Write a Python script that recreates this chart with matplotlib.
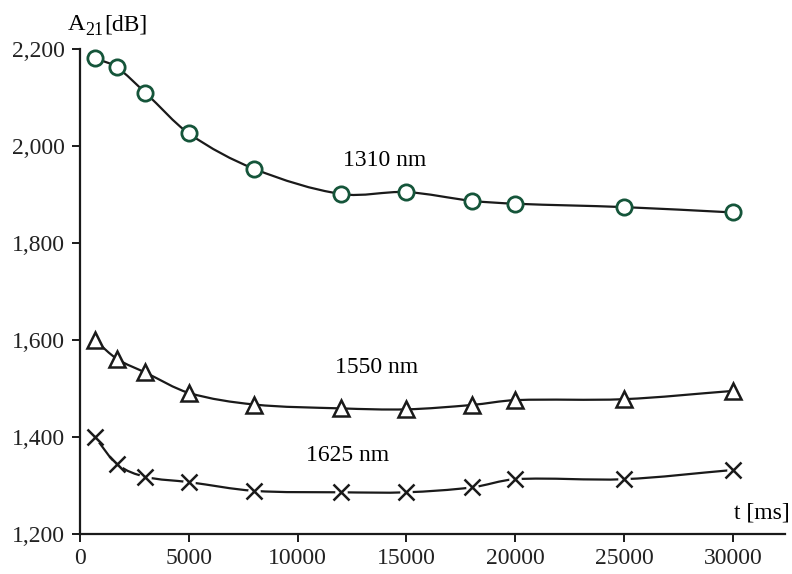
import numpy as np
import matplotlib
matplotlib.use("Agg")
import matplotlib.pyplot as plt
from matplotlib.path import Path
from matplotlib.patches import PathPatch

# ---- data ----
t_ms = [700, 1700, 3000, 5000, 8000, 12000, 15000, 18000, 20000, 25000, 30000]
a21_1310 = [2181, 2162, 2110, 2026, 1953, 1901, 1905, 1887, 1881, 1874, 1863]
a21_1550 = [1599, 1561, 1533, 1491, 1467, 1459, 1457, 1466, 1476, 1478, 1495]
a21_1625 = [1399, 1344, 1318, 1307, 1289, 1286, 1286, 1296, 1313, 1313, 1332]
series_labels = ["1310 nm", "1550 nm", "1625 nm"]
x_ticks = [0, 5000, 10000, 15000, 20000, 25000, 30000]
y_ticks = [1200, 1400, 1600, 1800, 2000, 2200]
y_tick_labels = ["1,200", "1,400", "1,600", "1,800", "2,000", "2,200"]

plt.rcParams['font.family'] = ['Liberation Serif', 'DejaVu Serif']

W, H = 792, 574
fig = plt.figure(figsize=(W / 100, H / 100), dpi=100)
ax = fig.add_axes([80/W, 40/H, 705/W, 485/H])
ax.set_xlim(0, 32400)
ax.set_ylim(1200, 2200)


def smooth_path(x, y):
    x = np.asarray(x, float)
    y = np.asarray(y, float)
    n = len(x)
    m = np.empty(n)
    m[0] = (y[1] - y[0]) / (x[1] - x[0])
    m[-1] = (y[-1] - y[-2]) / (x[-1] - x[-2])
    for i in range(1, n - 1):
        m[i] = (y[i + 1] - y[i - 1]) / (x[i + 1] - x[i - 1])
    verts = [(x[0], y[0])]
    codes = [Path.MOVETO]
    for i in range(n - 1):
        dx = x[i + 1] - x[i]
        verts += [(x[i] + dx / 3, y[i] + m[i] * dx / 3),
                  (x[i + 1] - dx / 3, y[i + 1] - m[i + 1] * dx / 3),
                  (x[i + 1], y[i + 1])]
        codes += [Path.CURVE4] * 3
    return Path(verts, codes)


for ys in (a21_1310, a21_1550, a21_1625):
    ax.add_patch(PathPatch(smooth_path(t_ms, ys), facecolor='none',
                           edgecolor='#1a1a1a', lw=1.6, zorder=2,
                           capstyle='round'))

green = '#15553a'
ax.plot(t_ms, a21_1310, linestyle='none', marker='o', ms=11,
        mfc='white', mec=green, mew=2.0, zorder=3, clip_on=False)
ax.plot(t_ms, a21_1550, linestyle='none', marker='^', ms=12,
        mfc='white', mec='#1a1a1a', mew=1.8, zorder=3, clip_on=False)
ax.plot(t_ms, a21_1625, linestyle='none', marker='o', ms=9,
        mfc='white', mec='none', zorder=3, clip_on=False)
ax.plot(t_ms, a21_1625, linestyle='none', marker='x', ms=11,
        mec='#1a1a1a', mew=1.8, zorder=4, clip_on=False)

# series labels
ax.text(14020, 1971, series_labels[0], fontsize=17, ha='center', va='center')
ax.text(13610, 1544, series_labels[1], fontsize=17, ha='center', va='center')
ax.text(12280, 1361, series_labels[2], fontsize=17, ha='center', va='center')

# axes styling
for s in ('top', 'right'):
    ax.spines[s].set_visible(False)
for s in ('left', 'bottom'):
    ax.spines[s].set_linewidth(1.6)
    ax.spines[s].set_color('#1a1a1a')
ax.set_xticks(x_ticks)
ax.set_xticklabels([str(v) for v in x_ticks])
ax.set_yticks(y_ticks)
ax.set_yticklabels(y_tick_labels)
ax.tick_params(axis='both', direction='out', length=6, width=1.4,
               colors='#1a1a1a', labelsize=17, labelcolor='#222222')
ax.tick_params(axis='x', pad=4)
ax.tick_params(axis='y', pad=5)

ax.text(1.007, 0.043, 't [ms]', transform=ax.transAxes, fontsize=17,
        ha='right', va='center')

# y-axis title A21[dB], built from pieces so the subscript is large enough
fig.text(68 / W, 1 - 30 / H, 'A', fontsize=17.5, ha='left', va='baseline')
fig.text(85.5 / W, 1 - 35 / H, '21', fontsize=13, ha='left', va='baseline')
fig.text(104 / W, 1 - 30 / H, '[dB]', fontsize=17, ha='left', va='baseline')

fig.savefig('out.png', dpi=100)
